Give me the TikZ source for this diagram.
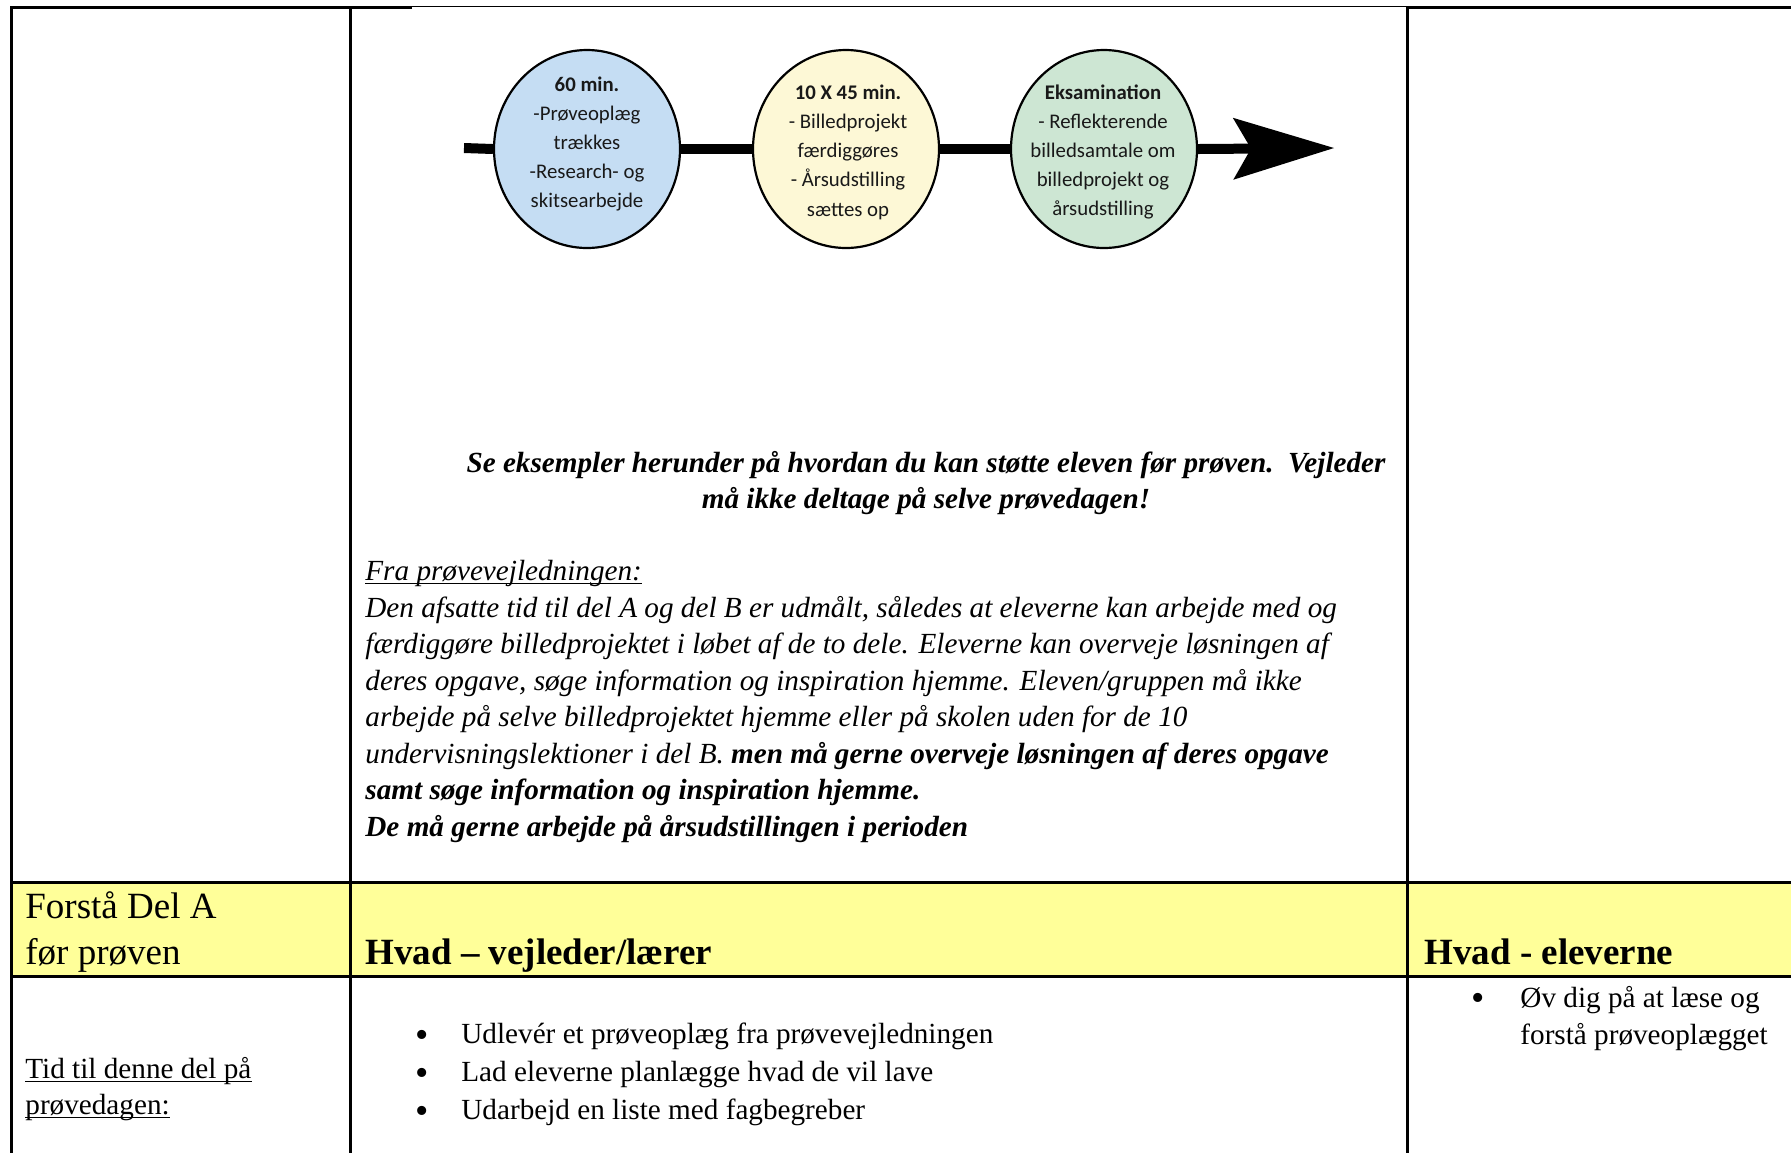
\documentclass[tikz,border=0pt]{standalone}
\usepackage{fontspec}
\setmainfont{Liberation Serif}
\newfontfamily\calib{Carlito}
\usetikzlibrary{shapes.geometric,arrows.meta}
\definecolor{cblue}{RGB}{197,221,243}
\definecolor{ccream}{RGB}{253,248,214}
\definecolor{cgreen}{RGB}{205,230,211}
\definecolor{hyellow}{RGB}{255,255,153}
\definecolor{ctext}{RGB}{25,25,25}
\tikzset{
  phase/.style={ellipse, draw=black, line width=1.1pt, minimum width=93pt, minimum height=99pt, inner sep=0pt},
  phasetext/.style={align=center, inner sep=0pt, text=ctext, font=\calib\fontsize{10.4}{14.6}\selectfont},
  flow/.style={line width=5pt, line cap=butt},
  body/.style={anchor=base west, inner sep=0pt, font=\fontsize{14.6}{18.3}\selectfont},
  bodyc/.style={anchor=base, inner sep=0pt, font=\fontsize{14.6}{18.3}\selectfont\bfseries\itshape},
  head/.style={anchor=base west, inner sep=0pt, font=\fontsize{18.5}{22}\selectfont},
  headb/.style={head, font=\fontsize{18.5}{22}\selectfont\bfseries},
  grid/.style={line width=1.5pt},
  uline/.style={line width=0.6pt},
  bulletmark/.style={anchor=base, inner sep=0pt, font=\fontsize{19}{20}\selectfont}
}
\begin{document}
\begin{tikzpicture}[x=0.5pt,y=-0.5pt]
\useasboundingbox (0,0) rectangle (1791,1153);
\fill[white] (0,0) rectangle (1791,1153);
% yellow header row
\fill[hyellow] (11,882) rectangle (1791,976);
% table lines
\draw[line width=1.5pt] (10,7) -- (412,7);
\draw[line width=0.7pt] (412,6.5) -- (1407,6.5);
\draw[line width=1.5pt] (1407,7) -- (1791,7);
\draw[grid] (11,6) -- (11,1153);
\draw[grid] (350,6) -- (350,1153);
\draw[grid] (1407,6) -- (1407,1153);
\draw[grid] (11,882) -- (1791,882);
\draw[grid] (11,976) -- (1791,976);

% timeline
\coordinate (start) at (464,148);
\coordinate (tip) at (1334,148);
\node[phase, fill=cblue] (c1) at (587,149) {};
\node[phase, fill=ccream] (c2) at (846,149) {};
\node[phase, fill=cgreen] (c3) at (1104,149) {};
\draw[flow] (start) -- (c1.west);
\draw[flow] (c1.east) -- (c2.west);
\draw[flow] (c2.east) -- (c3.west);
\draw[flow, -{Stealth[length=50.5pt, width=31pt, inset=9pt, line width=0pt]}] (c3.east) -- (tip);
\node[phasetext] (t1) at (587,144) {\textbf{60 min.}\\-Prøveoplæg\\trækkes\\-Research- og\\skitsearbejde};
\node[phasetext] (t2) at (848,152) {\textbf{10 X 45 min.}\\- Billedprojekt\\færdiggøres\\- Årsudstilling\\sættes op};
\node[phasetext] (t3) at (1103,152) {\textbf{Eksamination}\\- Reflekterende\\billedsamtale om\\billedprojekt og\\årsudstilling};

% centered note
\node[bodyc] (n1) at (926,472.5) {Se eksempler herunder på hvordan du kan støtte eleven før prøven.\ \ Vejleder};
\node[bodyc] (n2) at (926,508.5) {må ikke deltage på selve prøvedagen!};

% paragraph
\node[body] (p1) at (365,580.5) {\itshape Fra prøvevejledningen:};
\draw[uline] ([yshift=-1.6pt]p1.base west) -- ([yshift=-1.6pt]p1.base east);
\node[body] (p2) at (365,617.5) {\itshape Den afsatte tid til del A og del B er udmålt, således at eleverne kan arbejde med og};
\node[body] (p3) at (365,653.5) {\itshape færdiggøre billedprojektet i løbet af de to dele. Eleverne kan overveje løsningen af};
\node[body] (p4) at (365,690.5) {\itshape deres opgave, søge information og inspiration hjemme. Eleven/gruppen må ikke};
\node[body] (p5) at (365,726.5) {\itshape arbejde på selve billedprojektet hjemme eller på skolen uden for de 10};
\node[body] (p6) at (365,763.5) {\itshape undervisningslektioner i del B. \textbf{men må gerne overveje løsningen af deres opgave}};
\node[body] (p7) at (365,799.5) {\itshape\bfseries samt søge information og inspiration hjemme.};
\node[body] (p8) at (365,836.5) {\itshape\bfseries De må gerne arbejde på årsudstillingen i perioden};

% header row
\node[head] (h1) at (25,918) {Forstå Del A};
\node[head] (h2) at (25,964) {før prøven};
\node[headb] (h3) at (365,964) {Hvad – vejleder/lærer};
\node[headb] (h4) at (1424,964) {Hvad - eleverne};

% bottom row
\node[body] (r1) at (25,1078) {Tid til denne del på};
\draw[uline] ([yshift=-1.6pt]r1.base west) -- ([yshift=-1.6pt]r1.base east);
\node[body] (r2) at (25,1114) {prøvedagen:};
\draw[uline] ([yshift=-1.6pt]r2.base west) -- ([yshift=-1.6pt]r2.base east);
\node[bulletmark] (b1) at (422,1047) {•};
\node[bulletmark] (b2) at (422,1085) {•};
\node[bulletmark] (b3) at (422,1123) {•};
\node[body] (u1) at (461,1043.5) {Udlevér et prøveoplæg fra prøvevejledningen};
\node[body] (u2) at (461,1081.5) {Lad eleverne planlægge hvad de vil lave};
\node[body] (u3) at (461,1119.5) {Udarbejd en liste med fagbegreber};
\node[bulletmark] (b4) at (1478,1010) {•};
\node[body] (e1) at (1520,1007) {Øv dig på at læse og};
\node[body] (e2) at (1520,1044) {forstå prøveoplægget};
\end{tikzpicture}
\end{document}
